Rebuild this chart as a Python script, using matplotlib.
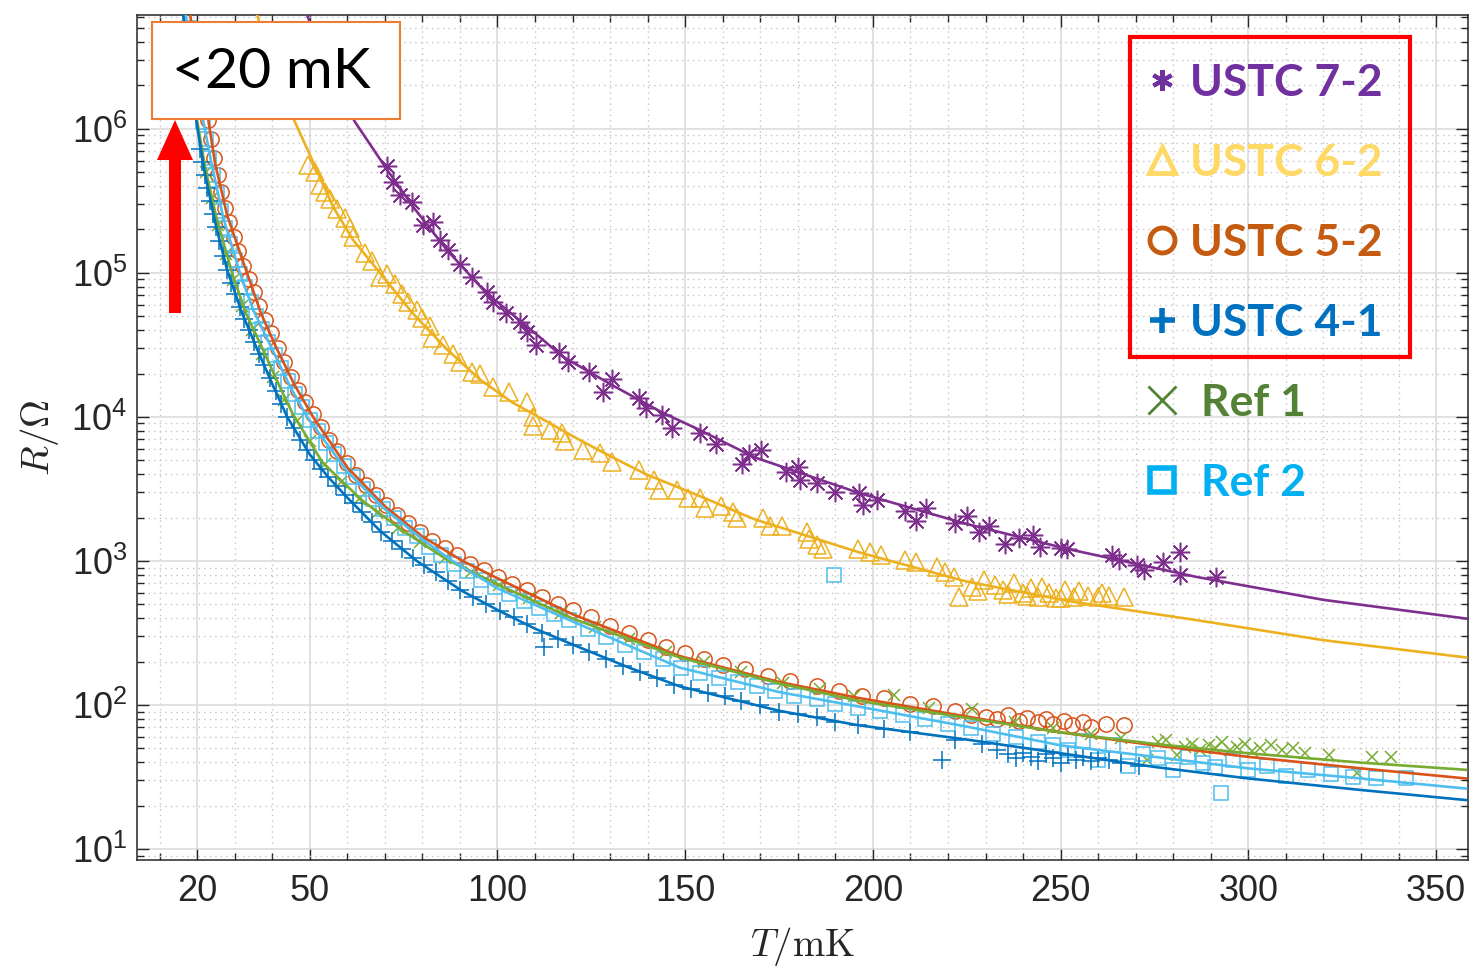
import numpy as np
import matplotlib.pyplot as plt
from matplotlib.lines import Line2D
from matplotlib.patches import Rectangle, FancyArrow
from matplotlib.transforms import IdentityTransform

plt.rcParams['font.family'] = ['Liberation Sans', 'DejaVu Sans']
plt.rcParams['mathtext.fontset'] = 'custom'
plt.rcParams['mathtext.rm'] = 'Liberation Sans'
plt.rcParams['mathtext.it'] = 'Liberation Sans:italic'

# values: T in mK, log10(R / Ohm)
# USTC 7-2 (purple asterisks)
t72 = [70.5, 72.1, 74.0, 77.2, 80.1, 82.8, 84.6, 86.8, 90.0, 93.1, 97.1, 98.7, 102.4, 105.9, 108.0,
       110.4, 116.5, 118.7, 124.5, 128.0, 130.4, 137.8, 139.7, 143.9, 146.6, 154.0, 158.3, 165.2,
       167.0, 170.3, 176.9, 180.1, 180.6, 185.2, 190.0, 196.3, 197.4, 201.0, 208.6, 211.5, 214.1,
       222.0, 225.0, 228.2, 230.9, 235.2, 238.9, 242.6, 244.5, 250.0, 251.6, 263.6, 265.5, 270.3,
       272.1, 277.2, 281.7, 281.7, 291.5]
lr72 = [5.74, 5.63, 5.54, 5.49, 5.33, 5.35, 5.23, 5.16, 5.06, 4.97, 4.87, 4.80, 4.72, 4.66, 4.59,
        4.50, 4.45, 4.38, 4.31, 4.17, 4.26, 4.13, 4.06, 4.01, 3.92, 3.89, 3.81, 3.67,
        3.74, 3.77, 3.62, 3.65, 3.56, 3.54, 3.48, 3.47, 3.39, 3.42, 3.35, 3.28, 3.37,
        3.26, 3.31, 3.20, 3.24, 3.12, 3.16, 3.18, 3.10, 3.09, 3.08, 3.04, 3.01, 2.97,
        2.94, 2.99, 3.06, 2.90, 2.89]
t72_fit = [49.3, 55.0, 62.0, 70.5, 77.5, 86.5, 97.0, 107.8, 117.3, 130.6, 143.9, 153.0, 168.4,
           196.5, 224.5, 252.4, 286.0, 320.0, 358.0]
lr72_fit = [6.79, 6.40, 6.05, 5.72, 5.46, 5.16, 4.86, 4.63, 4.42, 4.22, 4.03, 3.92, 3.72,
            3.47, 3.26, 3.08, 2.89, 2.73, 2.60]

# USTC 6-2 (yellow triangles)
t62 = [49.5, 51.4, 52.8, 54.0, 55.4, 57.2, 59.4, 60.7, 61.5, 64.7, 66.5, 68.7, 70.5, 72.7, 74.5,
       76.1, 78.5, 79.8, 82.0, 82.5, 85.4, 88.1, 90.0, 93.1, 95.3, 98.7, 103.2, 107.8, 109.4, 109.4,
       113.9, 117.3, 117.9, 122.7, 127.2, 130.6, 137.8, 141.8, 142.9, 147.9, 150.8, 154.0, 155.4,
       159.6, 162.8, 163.9, 170.8, 172.7, 175.9, 182.5, 183.0, 185.2, 186.8, 196.1, 199.3, 202.2,
       208.6, 211.5, 217.1, 219.2, 221.6, 222.9, 226.4, 228.0, 229.6, 232.5, 234.6, 236.0, 237.6,
       239.9, 241.0, 242.1, 243.9, 245.0, 246.9, 248.7, 250.0, 251.1, 253.5, 255.0, 257.2, 259.9,
       261.0, 262.8, 266.8]
lr62 = [5.75, 5.70, 5.61, 5.56, 5.51, 5.44, 5.38, 5.31, 5.25, 5.14, 5.08, 4.97, 4.99, 4.92, 4.85,
        4.80, 4.74, 4.69, 4.63, 4.55, 4.50, 4.44, 4.38, 4.31, 4.30, 4.21, 4.17, 4.10, 4.00, 3.94,
        3.91, 3.89, 3.83, 3.77, 3.75, 3.69, 3.63, 3.56, 3.49, 3.49, 3.44, 3.44, 3.37,
        3.38, 3.34, 3.30, 3.30, 3.24, 3.24, 3.20, 3.15, 3.11, 3.08, 3.08, 3.06, 3.04,
        3.01, 2.99, 2.96, 2.92, 2.89, 2.75, 2.82, 2.79, 2.87, 2.83, 2.80, 2.77, 2.85,
        2.78, 2.76, 2.81, 2.75, 2.82, 2.78, 2.74, 2.74, 2.80, 2.75, 2.79, 2.76, 2.75,
        2.78, 2.76, 2.75]
t62_fit = [36.0, 40.0, 45.5, 50.9, 56.2, 61.5, 68.7, 77.4, 86.5, 95.3, 104.0, 113.0, 121.9, 130.6,
           139.7, 153.0, 168.4, 196.3, 224.5, 252.4, 286.0, 320.0, 358.0]
lr62_fit = [6.79, 6.45, 6.08, 5.77, 5.46, 5.23, 5.00, 4.72, 4.47, 4.26, 4.10, 3.97, 3.84, 3.72,
            3.60, 3.46, 3.29, 3.06, 2.86, 2.72, 2.59, 2.45, 2.33]

# USTC 5-2 (orange circles)
t52 = [21.5, 22.2, 23.0, 23.8, 24.6, 25.5, 26.5, 27.5, 28.6, 29.8, 31.0, 32.3, 33.7, 35.1, 36.6,
       38.2, 39.8, 41.5, 43.2, 45.0, 46.9, 48.8, 50.8, 52.9, 55.1, 57.4, 59.8, 62.3, 64.9, 67.6,
       70.4, 73.3, 76.3, 79.4, 82.6, 85.9, 89.3, 92.8, 96.4, 100.1, 104, 108, 112, 116, 120,
       125, 130, 135, 140, 145, 150, 155, 160, 166, 172, 178, 185, 191, 197, 203, 210, 216, 222,
       226, 230, 233, 236, 239, 241, 244, 246, 248, 251, 253, 256, 258, 262, 267]
lr52 = [6.30, 6.18, 6.06, 5.93, 5.80, 5.68, 5.56, 5.45, 5.35, 5.25, 5.15, 5.05, 4.96, 4.87, 4.77,
        4.67, 4.58, 4.48, 4.38, 4.28, 4.19, 4.10, 4.02, 3.93, 3.84, 3.76, 3.68, 3.60, 3.53, 3.46,
        3.39, 3.32, 3.26, 3.20, 3.14, 3.09, 3.04, 2.98, 2.94, 2.89, 2.84, 2.80, 2.75, 2.70, 2.66,
        2.61, 2.55, 2.50, 2.45, 2.40, 2.36, 2.32, 2.28, 2.25, 2.20, 2.17, 2.13, 2.10, 2.06, 2.05,
        2.01, 1.99, 1.96, 1.93, 1.92, 1.90, 1.93, 1.89, 1.91, 1.88, 1.90, 1.87, 1.89, 1.86, 1.88,
        1.85, 1.87, 1.86]
t52_fit = [18.2, 20.0, 23.0, 24.8, 28.0, 33.3, 37.0, 41.3, 46.0, 50.9, 60.0, 70.0, 80.0, 90.7,
           100.0, 120.0, 148.5, 175.0, 196.0, 225.0, 250.0, 275.0, 300.0, 330.0, 358.0]
lr52_fit = [6.79, 6.40, 6.06, 5.76, 5.40, 5.00, 4.72, 4.47, 4.22, 4.00, 3.65, 3.38, 3.17, 3.00,
            2.88, 2.63, 2.34, 2.16, 2.05, 1.92, 1.81, 1.72, 1.64, 1.56, 1.49]

# USTC 4-1 (blue plus)
t41 = [20.8, 21.4, 22.0, 22.7, 23.4, 24.2, 25.0, 25.9, 26.9, 27.9, 29.0, 30.1, 31.3, 32.5, 33.8,
       35.1, 36.5, 37.9, 39.4, 40.9, 42.4, 44.0, 45.7, 47.4, 49.2, 51.1, 53.0, 55.0, 57.1, 59.3,
       61.6, 64.0, 66.5, 69.1, 71.8, 74.6, 77.5, 80.5, 83.6, 86.8, 90.1, 93.5, 97.0, 100.6, 104.3,
       108.0, 112.5, 112.0, 116.0, 120.0, 124.5, 129.0, 133.5, 138.0, 142.5, 147.0, 151.5, 156.0,
       160.5, 165.0, 170.0, 175.0, 180.0, 185.0, 190.0, 196.0, 203.0, 210.0, 218.4, 222.0, 229.0,
       233.0, 236.0, 238.0, 240.0, 242.0, 244.0, 246.0, 248.0, 250.0, 252.0, 254.0, 256.0, 258.0,
       260.0, 263.0, 266.0, 271.0]
lr41 = [5.86, 5.77, 5.68, 5.59, 5.50, 5.41, 5.32, 5.22, 5.12, 5.02, 4.93, 4.85, 4.76, 4.68, 4.60,
        4.52, 4.44, 4.36, 4.27, 4.18, 4.09, 4.00, 3.92, 3.84, 3.77, 3.70, 3.64, 3.58, 3.52, 3.46,
        3.40, 3.34, 3.27, 3.20, 3.14, 3.08, 3.02, 2.97, 2.92, 2.86, 2.80, 2.75, 2.70, 2.65, 2.61,
        2.56, 2.40, 2.50, 2.46, 2.42, 2.37, 2.32, 2.27, 2.23, 2.19, 2.14, 2.11, 2.08,
        2.06, 2.03, 2.00, 1.95, 1.94, 1.92, 1.88, 1.86, 1.83, 1.81, 1.62, 1.76, 1.73,
        1.69, 1.66, 1.63, 1.67, 1.64, 1.61, 1.66, 1.63, 1.60, 1.65, 1.62, 1.64, 1.61,
        1.63, 1.62, 1.60, 1.58]
t41_fit = [16.3, 18.0, 20.0, 22.0, 25.0, 28.0, 32.0, 36.0, 40.0, 44.0, 50.0, 55.0, 60.0, 68.7,
           78.5, 90.7, 100.0, 110.0, 120.0, 135.0, 148.5, 175.0, 196.0, 225.0, 250.0, 275.0,
           300.0, 330.0, 358.0]
lr41_fit = [6.79, 6.40, 6.02, 5.70, 5.33, 5.02, 4.72, 4.47, 4.23, 4.00, 3.74, 3.58, 3.44, 3.21,
            3.00, 2.79, 2.66, 2.53, 2.42, 2.26, 2.13, 1.96, 1.86, 1.76, 1.665, 1.57,
            1.49, 1.41, 1.34]

# Ref 1 (green crosses)
tr1 = [22.5, 24.0, 25.7, 27.6, 29.7, 32.0, 34.5, 37.2, 40.1, 43.2, 46.5, 50.0, 54.0, 58.3, 63.0,
       68.0, 73.5, 79.5, 86.0, 93.0, 100.5, 108.5, 117, 126, 135, 145, 155, 165, 176, 186, 195,
       205.6, 215, 226.4, 237.8, 248, 258, 266, 272.9, 276, 278, 281, 283, 285, 287, 289.4, 291,
       293, 295, 297, 299, 301, 303, 306, 309, 312, 315, 321.6, 329, 333, 338]
lrr1 = [5.70, 5.52, 5.33, 5.13, 4.95, 4.77, 4.60, 4.44, 4.28, 4.12, 3.97, 3.83, 3.67, 3.55, 3.43,
        3.33, 3.23, 3.13, 3.02, 2.92, 2.83, 2.74, 2.64, 2.54, 2.46, 2.37, 2.30, 2.23, 2.15, 2.11,
        2.06, 2.07, 1.98, 1.97, 1.88, 1.84, 1.80, 1.77, 1.62, 1.74, 1.76, 1.65, 1.71, 1.73, 1.69,
        1.72, 1.70, 1.74, 1.69, 1.71, 1.73, 1.68, 1.70, 1.72, 1.69, 1.70, 1.67, 1.65, 1.53, 1.64,
        1.64]
tr1_fit = [16.5, 18.0, 20.0, 22.1, 25.0, 29.3, 33.0, 37.5, 42.0, 45.5, 53.5, 64.0, 74.8, 86.5,
           99.8, 120.0, 148.5, 175.0, 196.0, 225.0, 250.0, 275.0, 300.0, 330.0, 358.0]
lrr1_fit = [6.79, 6.45, 6.06, 5.74, 5.40, 5.00, 4.72, 4.47, 4.21, 4.02, 3.68, 3.42, 3.21, 3.01,
            2.84, 2.60, 2.33, 2.15, 2.03, 1.91, 1.81, 1.73, 1.665, 1.60, 1.55]

# Ref 2 (light blue squares)
tr2 = [17.8, 18.5, 19.2, 20.0, 20.8, 21.6, 22.4, 23.3, 24.3, 25.3, 26.4, 27.5, 28.7, 30.0, 31.4,
       32.8, 34.3, 35.8, 37.4, 39.0, 40.7, 42.4, 44.2, 46.1, 48.0, 50.0, 52.1, 54.3, 56.6, 59.0,
       61.5, 64.1, 66.8, 69.6, 72.5, 75.5, 78.6, 81.8, 85.1, 88.5, 92.0, 95.6, 99.3, 103, 107,
       111, 115, 119, 124, 129, 134, 139, 144, 149, 154, 159, 164, 169, 174, 179, 185, 189.7, 190,
       196, 202, 208, 214, 220, 226, 232, 238, 244, 248, 252, 256, 260, 264, 268, 272, 276, 280,
       284, 288, 291, 292.6, 296, 300, 305, 310, 316, 322, 328, 334, 342]
lrr2 = [6.70, 6.58, 6.46, 6.32, 6.18, 6.05, 5.93, 5.80, 5.68, 5.55, 5.43, 5.31, 5.20, 5.09, 4.99,
        4.90, 4.80, 4.70, 4.61, 4.52, 4.43, 4.34, 4.25, 4.16, 4.07, 3.98, 3.90, 3.82, 3.74, 3.66,
        3.58, 3.50, 3.43, 3.36, 3.30, 3.23, 3.17, 3.10, 3.04, 2.98, 2.93, 2.87, 2.82, 2.77, 2.72,
        2.67, 2.63, 2.59, 2.53, 2.47, 2.42, 2.37, 2.32, 2.26, 2.22, 2.19, 2.16, 2.13, 2.10, 2.06,
        2.04, 2.90, 2.01, 1.98, 1.96, 1.93, 1.90, 1.87, 1.84, 1.80, 1.78, 1.74, 1.72, 1.69, 1.75,
        1.62, 1.72, 1.58, 1.66, 1.63, 1.55, 1.64, 1.60, 1.57, 1.39, 1.62, 1.55, 1.58, 1.51, 1.55,
        1.52, 1.50, 1.49, 1.49]
tr2_fit = [17.0, 20.0, 21.6, 24.0, 27.0, 31.4, 35.0, 40.0, 45.0, 49.3, 60.0, 70.0, 80.0, 88.0,
           100.0, 120.0, 148.5, 175.0, 196.0, 225.0, 250.0, 275.0, 300.0, 330.0, 358.0]
lrr2_fit = [6.79, 6.25, 6.06, 5.74, 5.38, 5.00, 4.74, 4.47, 4.20, 4.00, 3.62, 3.36, 3.15, 3.00,
            2.81, 2.58, 2.26, 2.09, 1.99, 1.85, 1.72, 1.64, 1.56, 1.49, 1.42]

labels = ['USTC 7-2', 'USTC 6-2', 'USTC 5-2', 'USTC 4-1', ' Ref 1', ' Ref 2']
x_major = [20, 50, 100, 150, 200, 250, 300, 350]

# matlab default colours for the data, powerpoint colours for the legend text
colors = ['#7E2F8E', '#EDB120', '#D95319', '#0072BD', '#77AC30', '#4DBEEE']
text_colors = ['#7030A0', '#FFD966', '#C55A11', '#0070C0', '#538135', '#00B0F0']

fig = plt.figure(figsize=(14.73, 9.68), dpi=100)
fig.patch.set_facecolor('white')
ax = fig.add_axes([137 / 1473, 108 / 968, 1331 / 1473, 845 / 968])

series = [
    (t72, lr72, t72_fit, lr72_fit, (8, 2, 0), 14),
    (t62, lr62, t62_fit, lr62_fit, '^', 12.5),
    (t52, lr52, t52_fit, lr52_fit, 'o', 11),
    (tr1, lrr1, tr1_fit, lrr1_fit, 'x', 8.5),
    (tr2, lrr2, tr2_fit, lrr2_fit, 's', 9.5),
    (t41, lr41, t41_fit, lr41_fit, '+', 13),
]
series_colors = [colors[0], colors[1], colors[2], colors[4], colors[5], colors[3]]

for (t, lr, tf, lrf, mk, ms), c in zip(series, series_colors):
    ax.plot(t, 10 ** np.array(lr), ls='none', marker=mk, ms=ms, mfc='none', mec=c, mew=1.1, zorder=2)
for (t, lr, tf, lrf, mk, ms), c in zip(series, series_colors):
    ax.plot(tf, 10 ** np.array(lrf), color=c, lw=1.9, zorder=3)

ax.set_yscale('log')
ax.set_xlim(4, 358.5)
ax.set_ylim(10 ** 0.924, 10 ** 6.79)
ax.set_xticks(x_major)
ax.set_xticks([v for v in range(10, 351, 10) if v not in x_major], minor=True)
ax.set_xticklabels([str(v) for v in x_major])

ax.grid(which='major', color='#dcdcdc', lw=1.2)
ax.grid(which='minor', color='#c4c4c4', lw=1.0, ls=(0, (1, 3)))
ax.set_axisbelow(True)
ax.tick_params(which='both', direction='in', top=True, right=True, colors='#262626', width=1.0)
ax.tick_params(which='major', length=8.5, labelsize=26)
ax.tick_params(which='minor', length=5)
ax.tick_params(axis='x', pad=10)
ax.tick_params(axis='y', pad=7)
for sp in ax.spines.values():
    sp.set_color('#262626')
    sp.set_linewidth(1.1)

ax.set_xlabel(r'$T/\mathrm{mK}$', fontsize=28, math_fontfamily='cm', color='#262626')
ax.set_ylabel(r'$R/\Omega$', fontsize=28, math_fontfamily='cm', color='#262626')
ax.xaxis.set_label_coords(0.5, -0.077)
ax.yaxis.set_label_coords(-0.057, 0.5)

handles = [
    Line2D([], [], ls='none', marker=(6, 2, 0), ms=15, mec=text_colors[0], mew=3),
    Line2D([], [], ls='none', marker='^', ms=19, mfc='none', mec=text_colors[1], mew=3.5),
    Line2D([], [], ls='none', marker='o', ms=18, mfc='none', mec=text_colors[2], mew=3.5),
    Line2D([], [], ls='none', marker='+', ms=18, mec=text_colors[3], mew=4),
    Line2D([], [], ls='none', marker='x', ms=20, mec=text_colors[4], mew=2),
    Line2D([], [], ls='none', marker='s', ms=17, mfc='none', mec=text_colors[5], mew=4),
]
ax.legend(handles, labels, loc='upper left', bbox_to_anchor=(1146 / 1473, 1 - 63 / 968),
          bbox_transform=fig.transFigure, frameon=False,
          prop={'family': 'Lato', 'weight': 'bold', 'size': 32}, labelcolor=text_colors,
          handlelength=0.7, handletextpad=0.3, labelspacing=0.9, borderpad=0, borderaxespad=0)

fig.add_artist(Rectangle((1130 / 1473, 1 - 357 / 968), 280 / 1473, 320 / 968,
                         transform=fig.transFigure, fill=False, edgecolor='#FF0000', lw=3, zorder=5))

fig.add_artist(Rectangle((152 / 1473, 1 - 119 / 968), 248 / 1473, 97 / 968,
                         transform=fig.transFigure, facecolor='white', edgecolor='#ED7D31',
                         lw=1.5, zorder=5))
fig.text(271 / 1473, 1 - 72 / 968, '<20 mK', ha='center', va='center', fontsize=41,
         family='Lato', color='black', zorder=6)
fig.add_artist(FancyArrow(175, 968 - 313, 0, 193, width=12, head_width=36, head_length=40,
                          length_includes_head=True, color='#FF0000', lw=0,
                          transform=IdentityTransform(), zorder=5))

fig.savefig('out.png', dpi=100)
